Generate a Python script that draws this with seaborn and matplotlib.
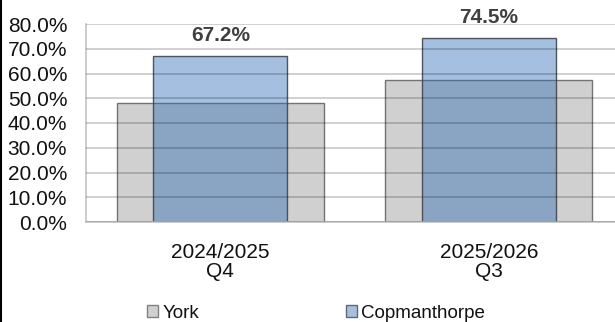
import matplotlib
matplotlib.use("Agg")
import matplotlib.pyplot as plt
from matplotlib.lines import Line2D
from matplotlib.patches import Patch
from matplotlib.ticker import FuncFormatter, MultipleLocator
import seaborn as sns

periods = ["2024/2025\nQ4", "2025/2026\nQ3"]
york = [48.2, 57.2]
copmanthorpe = [67.2, 74.5]

sns.set_theme(style="white")
plt.rcParams["font.family"] = ["Liberation Sans", "DejaVu Sans"]

fig = plt.figure(figsize=(6.15, 3.22), dpi=100)
ax = fig.add_axes([86 / 615, 100 / 322, 1 - 86 / 615, 198 / 322])

york_face = (208 / 255, 208 / 255, 208 / 255, 1.0)
york_edge = (0.45, 0.45, 0.45, 1.0)
cop_face = (46 / 255, 107 / 255, 182 / 255, 0.43)
cop_edge = (0.25, 0.27, 0.30, 0.9)

sns.barplot(x=periods, y=york, width=0.771, ax=ax, color="#d0d0d0", zorder=1)
n_york = len(ax.patches)
sns.barplot(x=periods, y=copmanthorpe, width=0.50, ax=ax, color="#2e6bb6", zorder=1.2)

for i, p in enumerate(ax.patches):
    if i < n_york:
        p.set_facecolor(york_face)
        p.set_edgecolor(york_edge)
    else:
        p.set_facecolor(cop_face)
        p.set_edgecolor(cop_edge)
    p.set_linewidth(1.0)

ax.bar_label(ax.containers[1], labels=[f"{v:.1f}%" for v in copmanthorpe],
             padding=8, fontsize=15, fontweight="bold", color="#404040",
             clip_on=False)

ax.set_xlim(-0.5, 1.47)
ax.set_ylim(0, 80)
ax.yaxis.set_major_locator(MultipleLocator(10))
ax.yaxis.set_major_formatter(FuncFormatter(lambda v, _: f"{v:.1f}%"))
ax.grid(axis="y", color="black", alpha=0.2, linewidth=1.3)
ax.set_axisbelow(False)
for line in ax.get_ygridlines():
    line.set_zorder(2.5)

for side in ("top", "right"):
    ax.spines[side].set_visible(False)
for side in ("left", "bottom"):
    ax.spines[side].set_color("#c8c8c8")
    ax.spines[side].set_linewidth(1.3)

ax.tick_params(axis="y", length=0, pad=13.5, labelsize=15, labelcolor="#111111")
ax.tick_params(axis="x", length=0, pad=15, labelsize=15, labelcolor="#111111")
for t in ax.get_xticklabels():
    t.set_linespacing(1.0)
ax.set_xlabel("")
ax.set_ylabel("")

handles = [
    Patch(facecolor="#d0d0d0", edgecolor="#808080", linewidth=1.0, label="York"),
    Patch(facecolor="#a6c0e0", edgecolor="#606878", linewidth=1.0, label="Copmanthorpe"),
]
fig.legend(handles=handles, loc="center", bbox_to_anchor=(316 / 615, 1 - 313 / 322),
           ncol=2, frameon=False, fontsize=13.5, handlelength=0.6, handleheight=0.6,
           handletextpad=0.25, columnspacing=7.8, borderaxespad=0, borderpad=0,
           labelcolor="#111111")

fig.add_artist(Line2D([1 / 615, 1 / 615], [0, 1], transform=fig.transFigure,
                      color="black", linewidth=1.5))

fig.savefig("out.png", dpi=100)
